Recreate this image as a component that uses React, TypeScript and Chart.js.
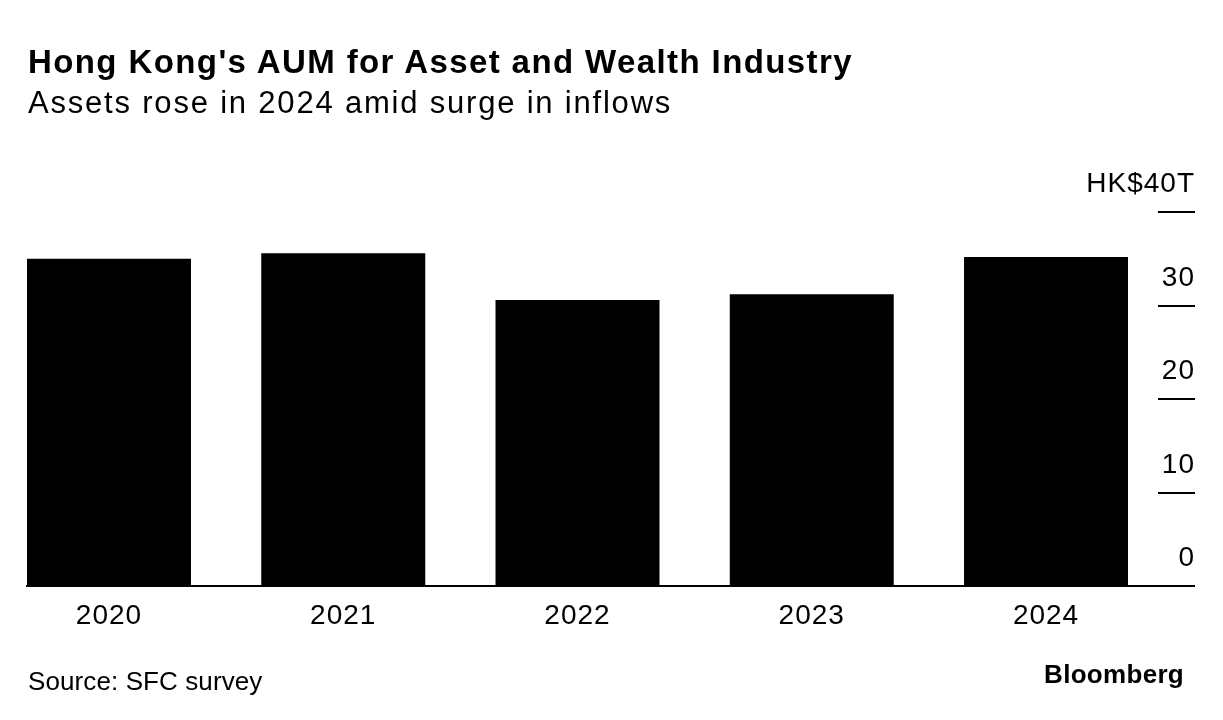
import React, { useEffect, useRef } from 'react';
import { Chart, registerables } from 'chart.js';

Chart.register(...registerables);

// ---- Data ----
const years = ['2020', '2021', '2022', '2023', '2024'];
const aumTrillionHKD = [35.0, 35.6, 30.6, 31.2, 35.2];
const yTickValues = [0, 10, 20, 30, 40];
const yTickLabels = ['0', '10', '20', '30', 'HK$40T'];

const titleText = "Hong Kong's AUM for Asset and Wealth Industry";
const subtitleText = 'Assets rose in 2024 amid surge in inflows';
const sourceText = 'Source: SFC survey';
const brandText = 'Bloomberg';

const FONT = "'Liberation Sans', Arial, Helvetica, sans-serif";

export default function App() {
  const canvasRef = useRef<HTMLCanvasElement>(null);

  useEffect(() => {
    const canvas = canvasRef.current;
    if (!canvas) return;
    const chart = new Chart(canvas, {
      type: 'bar',
      data: {
        datasets: [
          {
            data: years.map((_, i) => ({ x: i, y: aumTrillionHKD[i] })),
            backgroundColor: '#000000',
            borderWidth: 0,
            categoryPercentage: 0.7,
            barPercentage: 1,
          },
        ],
      },
      options: {
        responsive: false,
        animation: false,
        layout: { padding: { left: 27, right: 28, top: 212, bottom: 84 } },
        plugins: {
          legend: { display: false },
          tooltip: { enabled: false },
          title: { display: false },
        },
        scales: {
          x: {
            type: 'linear',
            position: 'bottom',
            offset: false,
            min: -0.35,
            max: 4.478,
            grid: { display: false, offset: false },
            border: { display: true, color: '#000000', width: 2 },
            afterBuildTicks: (s: any) => {
              s.ticks = years.map((_, i) => ({ value: i }));
            },
            afterFit: (s: any) => {
              s.height = 50;
              s.paddingLeft = 0;
              s.paddingRight = 0;
            },
            ticks: {
              autoSkip: false,
              maxRotation: 0,
              padding: 5,
              color: '#000000',
              font: { family: FONT, size: 28 },
              callback: (v: any) => years[Math.round(Number(v))] ?? '',
            },
          },
          y: {
            position: 'right',
            min: 0,
            max: 40,
            afterBuildTicks: (s: any) => {
              s.ticks = yTickValues.map((v) => ({ value: v }));
            },
            afterFit: (s: any) => {
              s.width = 37;
              s.paddingTop = 0;
              s.paddingBottom = 0;
            },
            grid: {
              drawOnChartArea: false,
              drawTicks: true,
              tickLength: 37,
              color: '#000000',
              lineWidth: 2,
            },
            border: { display: false },
            ticks: {
              mirror: true,
              crossAlign: 'near',
              labelOffset: -27.5,
              padding: 37,
              color: '#000000',
              font: { family: FONT, size: 28 },
              callback: (v: any) => {
                const idx = yTickValues.indexOf(Number(v));
                return idx >= 0 ? yTickLabels[idx] : '';
              },
            },
          },
        },
      } as any,
      plugins: [
        {
          id: 'letterSpacing',
          beforeDraw: (c: any) => {
            try {
              c.ctx.letterSpacing = '1px';
            } catch (e) {}
          },
        },
      ],
    });
    return () => chart.destroy();
  }, []);

  const base: React.CSSProperties = {
    position: 'absolute',
    margin: 0,
    lineHeight: 1,
    whiteSpace: 'nowrap',
    color: '#000',
    fontFamily: FONT,
  };

  return (
    <div style={{ position: 'absolute', left: 0, top: 0, width: 1223, height: 720, background: '#fff', overflow: 'hidden' }}>
      <canvas
        ref={canvasRef}
        width={1223}
        height={720}
        style={{ position: 'absolute', left: 0, top: 0, width: 1223, height: 720, display: 'block' }}
      />
      <div style={{ ...base, left: 28, top: 45, fontSize: 33, fontWeight: 700, letterSpacing: '1.4px' }}>{titleText}</div>
      <div style={{ ...base, left: 28, top: 87, fontSize: 31, fontWeight: 400, letterSpacing: '1.8px' }}>{subtitleText}</div>
      <div style={{ ...base, left: 28, top: 668, fontSize: 26, fontWeight: 400, letterSpacing: '0.1px' }}>{sourceText}</div>
      <div style={{ ...base, right: 39, top: 661, fontSize: 26, fontWeight: 700, letterSpacing: '0.3px' }}>{brandText}</div>
    </div>
  );
}
